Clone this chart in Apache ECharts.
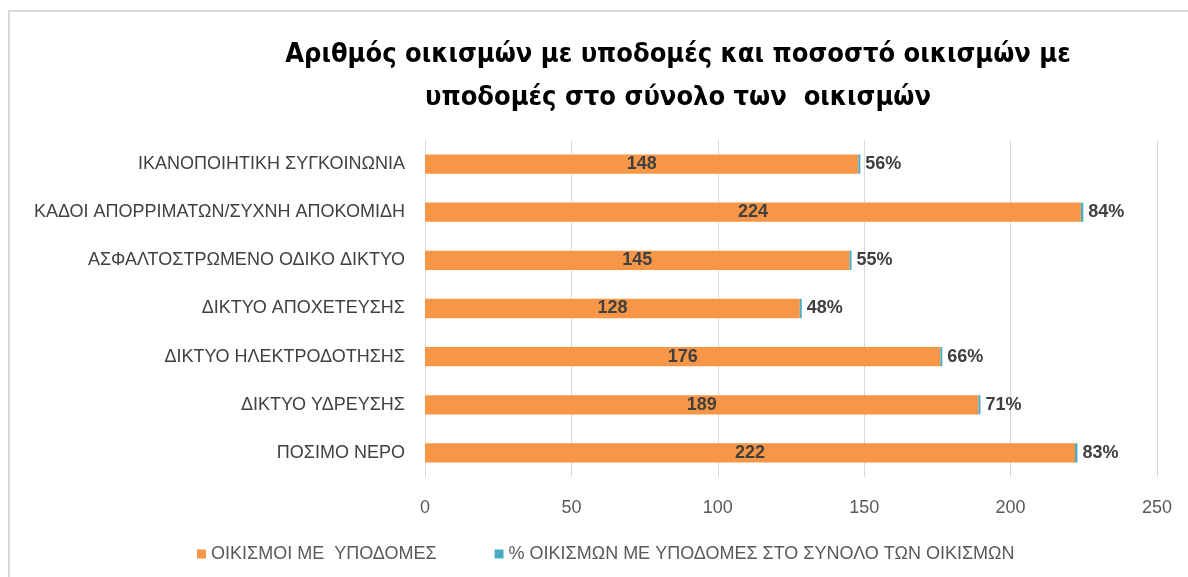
<!DOCTYPE html>
<html>
<head>
<meta charset="utf-8">
<script src="https://cdn.jsdelivr.net/npm/echarts@6/dist/echarts.min.js"></script>
<style>
  html, body { margin: 0; padding: 0; background: #fff; overflow: hidden; }
  #chart { width: 1188px; height: 577px; }
  .frame {
    position: absolute; left: 8px; top: 10px;
    width: 1300px; height: 700px;
    border: 2px solid #d9d9d9; pointer-events: none;
  }
</style>
</head>
<body>
<div id="chart"></div>
<div class="frame"></div>
<script>
// κατηγορίες (από πάνω προς τα κάτω)
const categories = [
  'ΙΚΑΝΟΠΟΙΗΤΙΚΗ ΣΥΓΚΟΙΝΩΝΙΑ',
  'ΚΑΔΟΙ ΑΠΟΡΡΙΜΑΤΩΝ/ΣΥΧΝΗ ΑΠΟΚΟΜΙΔΗ',
  'ΑΣΦΑΛΤΟΣΤΡΩΜΕΝΟ ΟΔΙΚΟ ΔΙΚΤΥΟ',
  'ΔΙΚΤΥΟ ΑΠΟΧΕΤΕΥΣΗΣ',
  'ΔΙΚΤΥΟ ΗΛΕΚΤΡΟΔΟΤΗΣΗΣ',
  'ΔΙΚΤΥΟ ΥΔΡΕΥΣΗΣ',
  'ΠΟΣΙΜΟ ΝΕΡΟ'
]
// αριθμός οικισμών με υποδομές
const settlements = [148, 224, 145, 128, 176, 189, 222]
// ποσοστό στο σύνολο (%)
const percents = [56, 84, 55, 48, 66, 71, 83]
const xTicks = { min: 0, max: 250, interval: 50 }

const chart = echarts.init(document.getElementById('chart'))
const labelFont = "'Liberation Sans', 'DejaVu Sans', sans-serif"

const option = {
  animation: false,
  title: {
    text: 'Αριθμός οικισμών με υποδομές και ποσοστό οικισμών με\nυποδομές στο σύνολο των  οικισμών',
    left: 673,
    top: 28,
    textAlign: 'center',
    textStyle: {
      fontFamily: "'DejaVu Sans Condensed', 'Liberation Sans Narrow', 'Liberation Sans', sans-serif",
      fontSize: 27,
      fontWeight: 'bold',
      color: '#000',
      lineHeight: 43
    }
  },
  legend: {
    left: 192,
    top: 540,
    itemWidth: 9,
    itemHeight: 9,
    itemGap: 58,
    icon: 'rect',
    textStyle: { fontFamily: labelFont, fontSize: 18, color: '#595959' },
    data: ['ΟΙΚΙΣΜΟΙ ΜΕ  ΥΠΟΔΟΜΕΣ', '% ΟΙΚΙΣΜΩΝ ΜΕ ΥΠΟΔΟΜΕΣ ΣΤΟ ΣΥΝΟΛΟ ΤΩΝ ΟΙΚΙΣΜΩΝ']
  },
  grid: {
    left: 425,
    right: 31,
    top: 140,
    bottom: 100,
    containLabel: false
  },
  xAxis: {
    type: 'value',
    min: xTicks.min,
    max: xTicks.max,
    interval: xTicks.interval,
    axisLine: { show: false },
    axisTick: { show: false },
    axisLabel: { color: '#595959', fontSize: 18, fontFamily: labelFont, margin: 22 },
    splitLine: { lineStyle: { color: '#d9d9d9', width: 1 } }
  },
  yAxis: {
    type: 'category',
    inverse: true,
    data: categories,
    axisLine: { show: false },
    axisTick: { show: false },
    axisLabel: { color: '#404040', fontSize: 18, fontFamily: labelFont, margin: 20 }
  },
  series: [
    {
      name: 'ΟΙΚΙΣΜΟΙ ΜΕ  ΥΠΟΔΟΜΕΣ',
      type: 'bar',
      stack: 'total',
      barWidth: '40%',
      itemStyle: { color: '#f79646' },
      label: {
        show: true,
        position: 'inside',
        color: '#404040',
        fontWeight: 'bold',
        fontSize: 18,
        fontFamily: labelFont
      },
      data: settlements
    },
    {
      name: '% ΟΙΚΙΣΜΩΝ ΜΕ ΥΠΟΔΟΜΕΣ ΣΤΟ ΣΥΝΟΛΟ ΤΩΝ ΟΙΚΙΣΜΩΝ',
      type: 'bar',
      stack: 'total',
      barWidth: '40%',
      barMinHeight: 2,
      itemStyle: { color: '#4bacc6' },
      label: {
        show: true,
        position: 'right',
        distance: 5,
        color: '#404040',
        fontWeight: 'bold',
        fontSize: 18,
        fontFamily: labelFont,
        formatter: p => percents[p.dataIndex] + '%'
      },
      data: percents.map(v => v / 100)
    }
  ]
}

chart.setOption(option)
</script>
</body>
</html>
